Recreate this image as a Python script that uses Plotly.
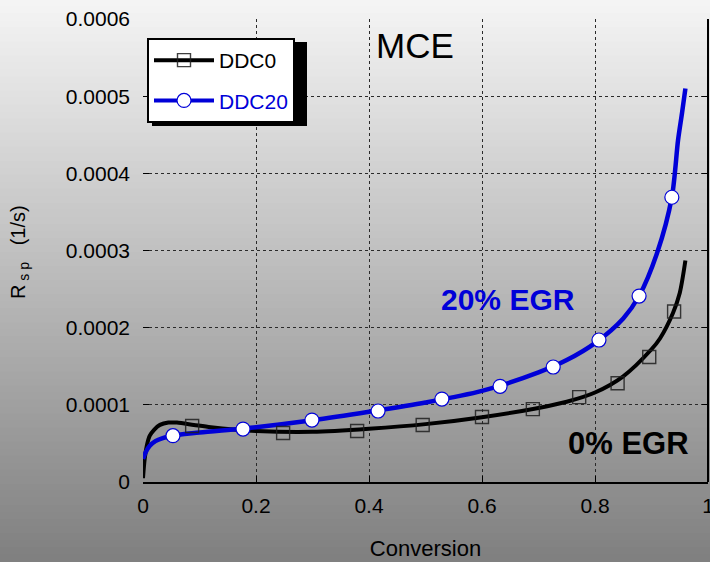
import plotly.graph_objects as go

# ---------------- data ----------------
# smooth fitted curves
ddc0_curve_x = [0.0, 0.003, 0.007, 0.012, 0.02, 0.03, 0.045, 0.06, 0.09, 0.12, 0.16, 0.2, 0.3, 0.4,
                0.5, 0.6, 0.7, 0.75, 0.8, 0.85, 0.9, 0.915, 0.938, 0.95, 0.96]
ddc0_curve_y = [0.000005, 0.00003, 0.000048, 0.00006, 0.000068, 0.000074, 0.000077, 0.000077, 0.000074,
                0.000071, 0.000068, 0.000066, 0.000065, 0.000069, 0.000075, 0.000084, 0.000096,
                0.000104, 0.000116, 0.000137, 0.000172, 0.000186, 0.000219, 0.000245, 0.000287]

ddc20_curve_x = [0.0, 0.005, 0.012, 0.022, 0.035, 0.05, 0.1, 0.2, 0.3, 0.4, 0.5, 0.6, 0.7, 0.75,
                 0.8, 0.85, 0.878, 0.91, 0.936, 0.947, 0.954, 0.96]
ddc20_curve_y = [0.00003, 0.000039, 0.000047, 0.000053, 0.000057, 0.00006, 0.000064, 0.000071, 0.00008,
                 0.000091, 0.000103, 0.000118, 0.000142, 0.000158, 0.00018, 0.000212, 0.000241,
                 0.000297, 0.000369, 0.000443, 0.000478, 0.00051]

# measured points (markers)
ddc0_pts_x = [0.087, 0.248, 0.379, 0.495, 0.600, 0.690, 0.772, 0.840, 0.896, 0.940]
ddc0_pts_y = [0.0000725, 0.0000635, 0.000066, 0.0000738, 0.0000842, 0.0000945, 0.00011, 0.000128,
              0.000162, 0.000221]

ddc20_pts_x = [0.053, 0.177, 0.299, 0.416, 0.529, 0.632, 0.726, 0.807, 0.878, 0.936]
ddc20_pts_y = [0.00006, 0.0000686, 0.0000803, 0.000092, 0.0001075, 0.000124, 0.000149, 0.000184,
               0.000241, 0.000369]

series_names = ["DDC0", "DDC20"]
x_ticks = [0, 0.2, 0.4, 0.6, 0.8, 1]
x_ticktext = ["0", "0.2", "0.4", "0.6", "0.8", "1"]
y_ticks = [0, 0.0001, 0.0002, 0.0003, 0.0004, 0.0005, 0.0006]
y_ticktext = ["0", "0.0001", "0.0002", "0.0003", "0.0004", "0.0005", "0.0006"]

# ---------------- styles ----------------
FONT = "Arial, Liberation Sans, sans-serif"
BLACK = "#000000"
BLUE = "#0000d8"
W, H = 710, 562
ML, MR, MT, MB = 143, 2, 19, 80
PW, PH = W - ML - MR, H - MT - MB


def px2paper(px, py):
    return (px - ML) / PW, (H - MB - py) / PH


fig = go.Figure()

# curves
fig.add_trace(go.Scatter(x=ddc0_curve_x, y=ddc0_curve_y, mode="lines",
                         line=dict(color=BLACK, width=4, shape="spline", smoothing=0.8),
                         showlegend=False, hoverinfo="skip"))
fig.add_trace(go.Scatter(x=ddc20_curve_x, y=ddc20_curve_y, mode="lines",
                         line=dict(color=BLUE, width=4.5, shape="spline", smoothing=0.8),
                         showlegend=False, hoverinfo="skip"))
# markers
sq_marker = dict(symbol="square-open", size=13, color="rgba(30,30,30,0.85)", line=dict(width=1.4))
ci_marker = dict(symbol="circle", size=14, color="white", line=dict(color=BLUE, width=1.2))
fig.add_trace(go.Scatter(x=ddc0_pts_x, y=ddc0_pts_y, mode="markers", marker=sq_marker,
                         showlegend=False))
fig.add_trace(go.Scatter(x=ddc20_pts_x, y=ddc20_pts_y, mode="markers", marker=ci_marker,
                         showlegend=False))
# legend entries
fig.add_trace(go.Scatter(x=[None], y=[None], mode="lines+markers", name=series_names[0],
                         line=dict(color=BLACK, width=4), marker=sq_marker, legendgroup="a"))
fig.add_trace(go.Scatter(x=[None], y=[None], mode="lines+markers",
                         name='<span style="color:%s">%s</span>' % (BLUE, series_names[1]),
                         line=dict(color=BLUE, width=4), marker=ci_marker, legendgroup="b"))

shapes = []
# gradient background
n_bands = 80
top_c, bot_c = 245, 127
y0p = -MB / PH
y1p = 1 + MT / PH
for i in range(n_bands):
    t = (i + 0.5) / n_bands
    c = round(top_c + (bot_c - top_c) * t)
    ya = y1p - (y1p - y0p) * i / n_bands
    yb = y1p - (y1p - y0p) * (i + 1) / n_bands
    shapes.append(dict(type="rect", xref="paper", yref="paper", x0=-ML / PW - 0.01, x1=1 + MR / PW + 0.01,
                       y0=yb - 0.002, y1=ya + 0.002, fillcolor="rgb(%d,%d,%d)" % (c, c, c),
                       line=dict(width=0), layer="below"))
# right border solid
shapes.append(dict(type="line", xref="paper", yref="paper", x0=1, x1=1, y0=0, y1=1,
                   line=dict(color="black", width=2), layer="above"))
# legend shadow
sx0, sy0 = px2paper(152, 42)
sx1, sy1 = px2paper(307, 126)
shapes.append(dict(type="rect", xref="paper", yref="paper", x0=sx0, x1=sx1, y0=sy1, y1=sy0,
                   fillcolor="black", line=dict(width=0), layer="above"))

annotations = []


def add_text(text, px, py, size, color, angle=0):
    xx, yy = px2paper(px, py)
    annotations.append(dict(text=text, x=xx, y=yy, xref="paper", yref="paper", showarrow=False,
                            xanchor="center", yanchor="middle", textangle=angle,
                            font=dict(family=FONT, size=size, color=color)))


add_text("MCE", 415, 45, 35, BLACK)
add_text("<b>20% EGR</b>", 508, 299, 30, BLUE)
add_text("<b>0% EGR</b>", 628, 443, 31, BLACK)
add_text("R<sub> s p</sub>   (1/s)", 20, 252, 20, BLACK, -90)

lx, ly = px2paper(147, 38)

fig.update_layout(
    width=W, height=H,
    margin=dict(l=ML, r=MR, t=MT, b=MB, autoexpand=False),
    paper_bgcolor="rgb(186,186,186)",
    plot_bgcolor="rgba(0,0,0,0)",
    font=dict(family=FONT, size=21, color=BLACK),
    shapes=shapes,
    annotations=annotations,
    showlegend=True,
    legend=dict(x=lx, y=ly, xanchor="left", yanchor="top", xref="paper", yref="paper",
                bgcolor="white", bordercolor="black", borderwidth=2,
                font=dict(family=FONT, size=21, color=BLACK),
                itemwidth=60, traceorder="grouped", tracegroupgap=10,
                itemclick=False),
    xaxis=dict(range=[0, 1], tickvals=x_ticks, ticktext=x_ticktext, showgrid=True,
               gridcolor="#2a2a2a", griddash="3px,3px", gridwidth=1, zeroline=False,
               showline=True, linecolor="black", linewidth=2,
               ticks="inside", ticklen=6, tickcolor="black",
               ticklabelstandoff=4, ticklabeloverflow="allow",
               title=dict(text="Conversion", font=dict(size=22), standoff=24),
               tickfont=dict(size=21)),
    yaxis=dict(range=[0, 0.0006], tickvals=y_ticks, ticktext=y_ticktext, showgrid=True,
               gridcolor="#2a2a2a", griddash="3px,3px", gridwidth=1, zeroline=False,
               showline=False, mirror="ticks",
               ticks="inside", ticklen=6, tickcolor="black",
               ticklabelstandoff=12,
               tickfont=dict(size=21)),
)

fig.write_html("out.html")
